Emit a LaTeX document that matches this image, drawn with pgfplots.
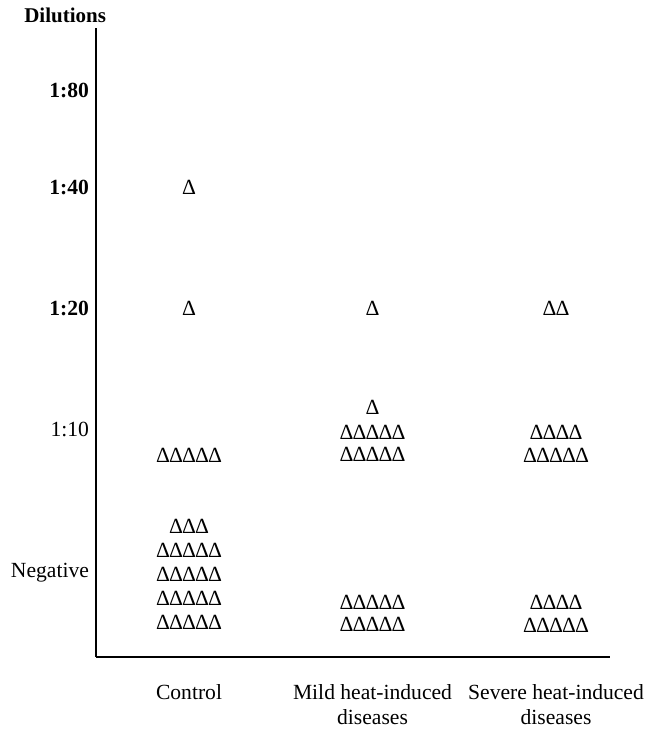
\documentclass[border=0pt]{standalone}
\usepackage{fontspec}
\setmainfont{Liberation Serif}
\usepackage{pgfplots}
\pgfplotsset{compat=1.18}
\pgfplotsset{tri/.style={black, only marks, mark=text, text mark={Δ}, text mark as node=true,
     text mark style={font=\fontsize{10.8}{13}\selectfont, inner sep=0pt, anchor=center}}}
\begin{document}
\begin{tikzpicture}
\begin{axis}[
  scale only axis,
  width=257pt, height=314.5pt,
  xmin=-0.5068, xmax=2.2943,
  ymin=0, ymax=629,
  axis x line*=bottom, axis y line*=left,
  axis line style={-, line width=0.55pt, black},
  every outer x axis line/.append style={-},
  every outer y axis line/.append style={-},
  major tick length=0pt,
  tick style={draw=none},
  xtick={0,1,2},
  xticklabels={Control,{Mild heat-induced\\diseases},{Severe heat-induced\\diseases}},
  xticklabel style={align=center, font=\fontsize{10.8}{12.5}\selectfont, yshift=-10.3pt},
  ytick={84,228,349,470,567},
  yticklabels={Negative,1:10,\textbf{1:20},\textbf{1:40},\textbf{1:80}},
  yticklabel style={font=\fontsize{10.8}{13}\selectfont},
  ylabel={\textbf{Dilutions}},
  ylabel style={rotate=-90, at={(axis description cs:-0.060,1.0207)}, anchor=center, font=\fontsize{10.5}{12}\selectfont},
  clip=false,
]
% Control
\addplot[tri] coordinates {(0,470) (0,349)
 (-0.142,202) (-0.071,202) (0,202) (0.071,202) (0.142,202)
 (-0.071,131) (0,131) (0.071,131)
 (-0.142,107) (-0.071,107) (0,107) (0.071,107) (0.142,107)
 (-0.142,83) (-0.071,83) (0,83) (0.071,83) (0.142,83)
 (-0.142,59) (-0.071,59) (0,59) (0.071,59) (0.142,59)
 (-0.142,35) (-0.071,35) (0,35) (0.071,35) (0.142,35)};
% Mild
\addplot[tri] coordinates {(1,349) (1,250)
 (0.858,225) (0.929,225) (1,225) (1.071,225) (1.142,225)
 (0.858,203) (0.929,203) (1,203) (1.071,203) (1.142,203)
 (0.858,55) (0.929,55) (1,55) (1.071,55) (1.142,55)
 (0.858,33) (0.929,33) (1,33) (1.071,33) (1.142,33)};
% Severe
\addplot[tri] coordinates {(1.9645,349) (2.0355,349)
 (1.8935,225) (1.9645,225) (2.0355,225) (2.1065,225)
 (1.858,202) (1.929,202) (2,202) (2.071,202) (2.142,202)
 (1.8935,55) (1.9645,55) (2.0355,55) (2.1065,55)
 (1.858,32) (1.929,32) (2,32) (2.071,32) (2.142,32)};
\coordinate (bbl) at (rel axis cs:-0.1868,-0.1224);
\coordinate (btr) at (rel axis cs:1.0778,1.0445);
\end{axis}
\pgfresetboundingbox
\path (bbl) rectangle (btr);
\end{tikzpicture}
\end{document}
